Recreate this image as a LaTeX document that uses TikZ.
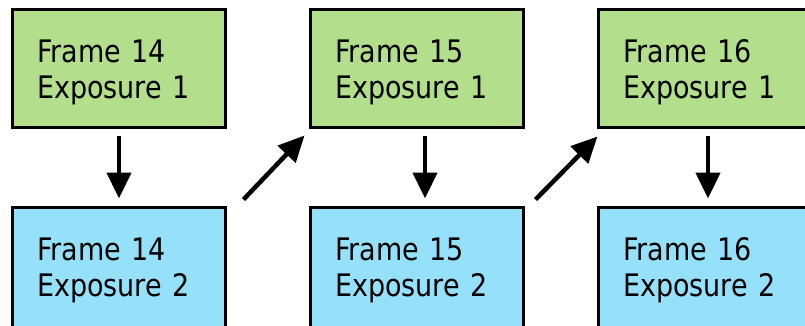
\documentclass[tikz,border=0pt]{standalone}
\usepackage{fontspec}
\setmainfont[FakeStretch=0.87]{DejaVu Sans}
\usepackage{tikz}
\usetikzlibrary{arrows.meta}
\definecolor{expone}{RGB}{179, 222, 139}
\definecolor{exptwo}{RGB}{149, 225, 252}

\begin{document}
\begin{tikzpicture}[x=1pt, y=1pt, >={Triangle[length=26pt,width=24pt]},
    framebox/.style={draw, line width=3pt, minimum width=213pt, minimum height=118pt,
        text width=163pt, align=left, inner xsep=25pt,
        font=\fontsize{31}{36}\selectfont},
    first/.style={framebox, fill=expone},
    second/.style={framebox, fill=exptwo, minimum height=124pt},
    link/.style={->, line width=4.5pt},
    down/.style={link, shorten <=7pt, shorten >=7pt}]
    \useasboundingbox (0,0) rectangle (805,-325);

    % Exposure 1 row
    \node[first] (t14) at (118.5,-68) {\rule{0pt}{31pt}Frame 14\\Exposure 1};
    \node[first] (t15) at (416.5,-68) {\rule{0pt}{31pt}Frame 15\\Exposure 1};
    \node[first] (t16) at (704.5,-68) {\rule{0pt}{31pt}Frame 16\\Exposure 1};

    % Exposure 2 row
    \node[second] (b14) at (118.5,-269) {\rule{0pt}{25pt}Frame 14\\Exposure 2};
    \node[second] (b15) at (416.5,-269) {\rule{0pt}{25pt}Frame 15\\Exposure 2};
    \node[second] (b16) at (704.5,-269) {\rule{0pt}{25pt}Frame 16\\Exposure 2};

    % Order of exposures
    \draw[down] ([xshift=0.5pt]t14.south) -- ([xshift=0.5pt]b14.north);
    \draw[down] ([xshift=8.5pt]t15.south) -- ([xshift=8.5pt]b15.north);
    \draw[down] ([xshift=3.5pt]t16.south) -- ([xshift=3.5pt]b16.north);
    \draw[link] ([shift={(17,6)}]b14.north east) -- ([shift={(-4,-7)}]t15.south west);
    \draw[link] ([shift={(11,6)}]b15.north east) -- ([shift={(1,-8)}]t16.south west);
\end{tikzpicture}
\end{document}
